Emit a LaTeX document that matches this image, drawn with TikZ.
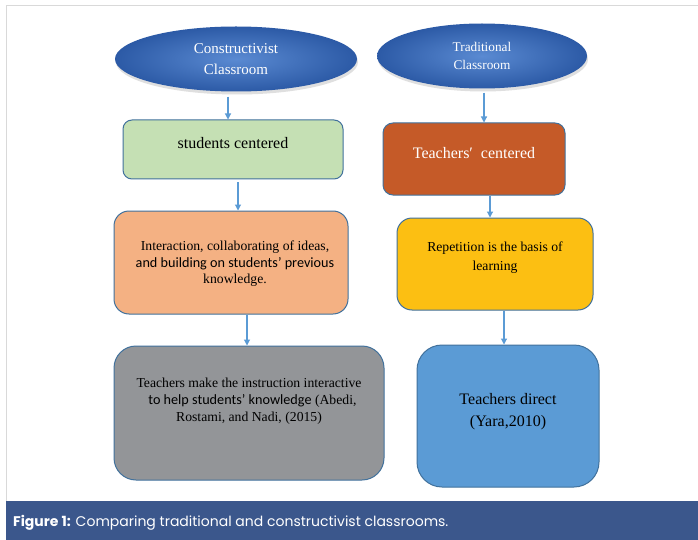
\documentclass[tikz,border=0pt]{standalone}
\usepackage{fontspec}
\setmainfont{Liberation Serif}
\newfontfamily\sansc{Carlito}
\newfontfamily\popfont{Poppins}
\usetikzlibrary{arrows.meta,shadows,shapes.geometric}
\definecolor{framegray}{HTML}{D9D9D9}
\definecolor{capblue}{HTML}{3B578C}
\definecolor{bordblue}{HTML}{41719C}
\definecolor{arrblue}{HTML}{5B9BD5}
\definecolor{ellin}{HTML}{5A8AD2}
\definecolor{ellout}{HTML}{2C5AA6}
\definecolor{cgreen}{HTML}{C5E0B4}
\definecolor{corange}{HTML}{F4B183}
\definecolor{crust}{HTML}{C55A28}
\definecolor{cyellow}{HTML}{FCBF12}
\definecolor{cgray}{HTML}{939598}
\definecolor{cblue}{HTML}{5B9BD5}
\tikzset{
  ell/.style={ellipse, inner sep=0pt, text=white, align=center,
    inner color=ellin, outer color=ellout,
    drop shadow={shadow xshift=1pt, shadow yshift=-3pt, opacity=0.25}},
  boxstyle/.style={draw=bordblue, line width=1pt, inner sep=0pt},
  txt/.style={align=center, inner sep=0pt},
  arr/.style={draw=arrblue, line width=1.1pt, -{Triangle[length=6pt,width=6pt]}},
}
\begin{document}
\begin{tikzpicture}[x=1pt,y=-1pt]
\useasboundingbox (0,0) rectangle (698,540);
\fill[white] (0,0) rectangle (698,540);
% frame
\draw[framegray, line width=1pt] (6,502) -- (6,6) -- (698,6);
\fill[capblue] (6,501) rectangle (698,540);
\node[anchor=base west, inner sep=0pt, text=white, font=\popfont\fontsize{14}{16}\selectfont] (cap) at (13,526)
  {\textbf{Figure 1:} Comparing traditional and constructivist classrooms.};
% ellipses
\node[ell, minimum width=242pt, minimum height=65pt, font=\fontsize{15}{20.7}\selectfont] (e1) at (236,59)
  {Constructivist\\Classroom};
\node[ell, minimum width=210pt, minimum height=65pt, font=\fontsize{13.3}{17.3}\selectfont] (e2) at (482,56)
  {Traditional\\Classroom};
% left column
\node[boxstyle, fill=cgreen, rounded corners=9pt, minimum width=220pt, minimum height=59pt] (b1) at (233,149.5) {};
\node[txt, font=\fontsize{16}{19}\selectfont] (b1t) at (233,143) {students centered};
\node[boxstyle, fill=corange, rounded corners=15pt, minimum width=234pt, minimum height=103pt] (b2) at (231,262.5) {};
\node[txt, font=\fontsize{13.7}{16.5}\selectfont] (b2t) at (235,264)
  {Interaction, collaborating of ideas,\\ {\sansc\fontsize{14.2}{16.5}\selectfont and building on students’ previous}\\ knowledge.};
\node[boxstyle, fill=cgray, rounded corners=22pt, minimum width=270pt, minimum height=134pt] (b3) at (249,413) {};
\node[txt, font=\fontsize{13.7}{17}\selectfont] (b3t) at (249,401)
  {Teachers make the instruction interactive\\ \ \ {\sansc\fontsize{14.2}{17}\selectfont to help students’ knowledge} (Abedi,\\ Rostami, and Nadi, (2015)};
% right column
\node[boxstyle, fill=crust, rounded corners=10pt, minimum width=182pt, minimum height=72pt] (b4) at (474,159) {};
\node[txt, text=white, font=\fontsize{16}{19}\selectfont] (b4t) at (474,153) {Teachers′\ \ centered};
\node[boxstyle, fill=cyellow, rounded corners=15pt, minimum width=196pt, minimum height=92pt] (b5) at (495,264) {};
\node[txt, font=\fontsize{13.7}{19}\selectfont] (b5t) at (495,258) {Repetition is the basis of\\learning};
\node[boxstyle, fill=cblue, rounded corners=25pt, minimum width=182pt, minimum height=142pt] (b6) at (508,416) {};
\node[txt, font=\fontsize{16}{22}\selectfont] (b6t) at (508,412) {Teachers direct\\(Yara,2010)};
% arrow columns
\coordinate (x1) at (228,0);
\coordinate (x2) at (238,0);
\coordinate (x3) at (247,0);
\coordinate (x4) at (484,0);
\coordinate (x5) at (490,0);
\coordinate (x6) at (504,0);
\draw[arr, shorten <=5pt] (e1.south -| x1) -- (b1.north -| x1);
\draw[arr, shorten <=3pt] (b1.south -| x2) -- (b2.north -| x2);
\draw[arr] (b2.south -| x3) -- (b3.north -| x3);
\draw[arr, shorten <=4pt] (e2.south -| x4) -- (b4.north -| x4);
\draw[arr] (b4.south -| x5) -- (b5.north -| x5);
\draw[arr] (b5.south -| x6) -- (b6.north -| x6);
\end{tikzpicture}
\end{document}
